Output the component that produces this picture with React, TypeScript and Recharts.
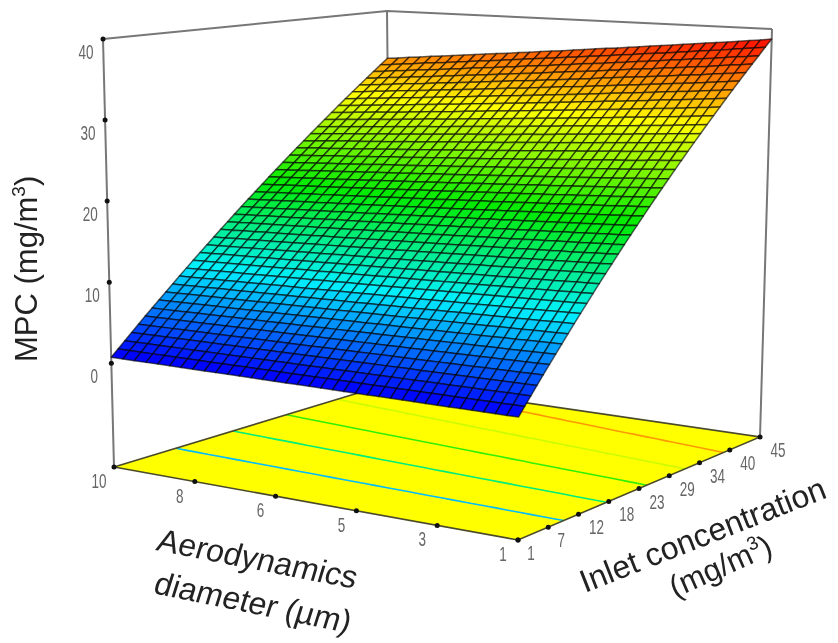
import { ScatterChart, Scatter, XAxis, YAxis } from 'recharts';

const WIDTH = 838;
const HEIGHT = 643;

// Axis ticks, equally spaced values with their rounded printed labels
const diameterTicks = [10, 8.2, 6.4, 4.6, 2.8, 1];
const diameterLabels = ['10', '8', '6', '5', '3', '1'];
const inletTicks = [1, 6.5, 12, 17.5, 23, 28.5, 34, 39.5, 45];
const inletLabels = ['1', '7', '12', '18', '23', '29', '34', '40', '45'];
const mpcTicks = [0, 10, 20, 30, 40];

// Mesh lines of the surface
const inletMesh = [
  1, 2.1, 3.2, 4.3, 5.4, 6.5, 7.6, 8.7, 9.8, 10.9, 12, 13.1, 14.2, 15.3, 16.4, 17.5, 18.6, 19.7, 20.8, 21.9, 23,
  24.1, 25.2, 26.3, 27.4, 28.5, 29.6, 30.7, 31.8, 32.9, 34, 35.1, 36.2, 37.3, 38.4, 39.5, 40.6, 41.7, 42.8, 43.9, 45,
];
const diameterMesh = [
  10, 9.74, 9.49, 9.23, 8.97, 8.71, 8.46, 8.2, 7.94, 7.69, 7.43, 7.17, 6.91, 6.66, 6.4, 6.14, 5.89, 5.63,
  5.37, 5.11, 4.86, 4.6, 4.34, 4.09, 3.83, 3.57, 3.31, 3.06, 2.8, 2.54, 2.29, 2.03, 1.77, 1.51, 1.26, 1,
];
// Share of the inlet concentration passing at each diameter
const passFraction = [
  0.74, 0.743, 0.747, 0.75, 0.754, 0.757, 0.76, 0.764, 0.767, 0.771, 0.774, 0.777, 0.781, 0.784, 0.788, 0.791, 0.794, 0.798,
  0.801, 0.805, 0.808, 0.811, 0.815, 0.818, 0.822, 0.825, 0.828, 0.832, 0.835, 0.839, 0.842, 0.845, 0.849, 0.853, 0.856, 0.86,
];
const contourLevels = [8, 14.7, 21, 27, 33];

const colorStops = [1, 10, 19, 29, 39];
const colorValues = [
  [0, 0, 255],
  [0, 240, 255],
  [0, 235, 0],
  [255, 255, 0],
  [255, 0, 0],
];

const Z_FLOOR = -12.8;
const Z_TOP = 40;

// Screen corners of the 3D box: d=10/c=1, d=1/c=1, d=1/c=45, d=10/c=45
const floorBox = [[114, 467], [518, 540], [760, 437], [391, 383]];
const topBox = [[103, 39], [520, 65], [772, 29], [387, 11]];

const bilinear = (box: number[][], u: number, v: number, i: number) =>
  (1 - u) * (1 - v) * box[0][i] + u * (1 - v) * box[1][i] + u * v * box[2][i] + (1 - u) * v * box[3][i];

function project(d: number, c: number, z: number) {
  const u = (10 - d) / 9;
  const v = (c - 1) / 44;
  const w = (z - Z_FLOOR) / (Z_TOP - Z_FLOOR);
  return {
    px: bilinear(floorBox, u, v, 0) * (1 - w) + bilinear(topBox, u, v, 0) * w,
    py: bilinear(floorBox, u, v, 1) * (1 - w) + bilinear(topBox, u, v, 1) * w,
  };
}

function colorFor(z: number) {
  let i = 0;
  while (i < colorStops.length - 2 && z > colorStops[i + 1]) i++;
  const t = Math.max(0, Math.min(1, (z - colorStops[i]) / (colorStops[i + 1] - colorStops[i])));
  const rgb = colorValues[i].map((a, k) => Math.round(a + (colorValues[i + 1][k] - a) * t));
  return `rgb(${rgb.join(',')})`;
}

// surface cells
const cells: any[] = [];
for (let r = inletMesh.length - 2; r >= 0; r--) {
  for (let k = 0; k < diameterMesh.length - 1; k++) {
    const z00 = inletMesh[r] * passFraction[k];
    const z01 = inletMesh[r] * passFraction[k + 1];
    const z11 = inletMesh[r + 1] * passFraction[k + 1];
    const z10 = inletMesh[r + 1] * passFraction[k];
    const a = project(diameterMesh[k], inletMesh[r], z00);
    const corners = [
      a,
      project(diameterMesh[k + 1], inletMesh[r], z01),
      project(diameterMesh[k + 1], inletMesh[r + 1], z11),
      project(diameterMesh[k], inletMesh[r + 1], z10),
    ];
    cells.push({ ...a, corners, fill: colorFor((z00 + z01 + z11 + z10) / 4) });
  }
}

const floorPoint = { ...project(10, 1, Z_FLOOR) };
const floorData = [
  {
    ...floorPoint,
    corners: [project(10, 1, Z_FLOOR), project(1, 1, Z_FLOOR), project(1, 45, Z_FLOOR), project(10, 45, Z_FLOOR)],
    fill: '#ffff00',
  },
];

const contours = contourLevels.map((level) => ({
  level,
  points: diameterMesh.map((d, k) => project(d, level / passFraction[k], Z_FLOOR)),
}));

const boxLines = [
  [project(10, 1, Z_FLOOR), project(10, 1, Z_TOP)],
  [project(10, 45, Z_FLOOR), project(10, 45, Z_TOP)],
  [project(1, 45, Z_FLOOR), project(1, 45, Z_TOP)],
  [project(10, 1, Z_TOP), project(10, 45, Z_TOP), project(1, 45, Z_TOP)],
];
const floorEdges = [
  [project(10, 1, Z_FLOOR), project(1, 1, Z_FLOOR), project(1, 45, Z_FLOOR), project(10, 45, Z_FLOOR), project(10, 1, Z_FLOOR)],
];

const tickDots = [
  ...mpcTicks.map((z) => project(10, 1, z)),
  ...diameterTicks.map((d) => project(d, 1, Z_FLOOR)),
  ...inletTicks.map((c) => project(1, c, Z_FLOOR)),
];

const tickLabels = [
  ...mpcTicks.map((z) => {
    const p = project(10, 1, z);
    return { px: p.px - 17, py: p.py + 20, text: String(z) };
  }),
  ...diameterTicks.map((d, i) => {
    const p = project(d, 1, Z_FLOOR);
    return { px: p.px - 15, py: p.py + 21, text: diameterLabels[i] };
  }),
  ...inletTicks.map((c, i) => {
    const p = project(1, c, Z_FLOOR);
    return { px: p.px + (inletLabels[i].length > 1 ? 18 : 13), py: p.py + 20, text: inletLabels[i] };
  }),
];

const titles = [
  { px: 37, py: 362, text: 'MPC (mg/m', sup: '3', tail: ')', angle: -90, skew: 0, size: 31 },
  { px: 155, py: 550, text: 'Aerodynamics', angle: 11, skew: -6, size: 32 },
  { px: 152, py: 593, text: 'diameter (µm)', angle: 11.5, skew: -6, size: 32 },
  { px: 585, py: 593, text: 'Inlet concentration', angle: -21.5, skew: 0, size: 32 },
  { px: 675, py: 598, text: '(mg/m', sup: '3', tail: ')', angle: -24, skew: 0, size: 31 },
];

const polygonShape = (stroke: string, strokeWidth: number) => (props: any) => {
  const { cx, cy, payload } = props;
  const points = payload.corners
    .map((p: any) => `${cx + p.px - payload.px},${cy + p.py - payload.py}`)
    .join(' ');
  return <polygon points={points} fill={payload.fill} stroke={stroke} strokeWidth={strokeWidth} strokeLinejoin="round" />;
};

const cellShape = polygonShape('rgba(0,0,0,0.62)', 1.5);
const floorShape = polygonShape('none', 0);
const noShape = () => <g />;
const dotShape = (props: any) => <circle cx={props.cx} cy={props.cy} r={2.5} fill="#111" />;

const tickLabelShape = (props: any) => {
  const { cx, cy, payload } = props;
  return (
    <text
      x={cx}
      y={cy}
      textAnchor="middle"
      fontFamily="'Liberation Sans', Arial, sans-serif"
      fontSize={21}
      fill="#666"
      textLength={payload.text.length * 7.5}
      lengthAdjust="spacingAndGlyphs"
    >
      {payload.text}
    </text>
  );
};

const titleShape = (props: any) => {
  const { cx, cy, payload } = props;
  return (
    <text
      transform={`translate(${cx},${cy}) rotate(${payload.angle}) skewX(${payload.skew})`}
      fontFamily="'Liberation Sans', Arial, sans-serif"
      fontSize={payload.size}
      fill="#222"
    >
      {payload.text}
      {payload.sup && (
        <tspan fontSize={19} dy={-12}>
          {payload.sup}
        </tspan>
      )}
      {payload.tail && <tspan dy={12}>{payload.tail}</tspan>}
    </text>
  );
};

export default function App() {
  return (
    <div style={{ position: 'absolute', left: 0, top: 0, width: WIDTH, height: HEIGHT, filter: 'blur(0.6px)' }}>
      <ScatterChart width={WIDTH} height={HEIGHT} margin={{ top: 0, right: 0, bottom: 0, left: 0 }}>
        <XAxis type="number" dataKey="px" domain={[0, WIDTH]} hide />
        <YAxis type="number" dataKey="py" domain={[0, HEIGHT]} reversed hide />
        <Scatter data={floorData} shape={floorShape} isAnimationActive={false} />
        {contours.map((c) => (
          <Scatter
            key={c.level}
            data={c.points}
            line={{ stroke: colorFor(c.level), strokeWidth: 1.6 }}
            shape={noShape}
            isAnimationActive={false}
          />
        ))}
        {floorEdges.map((points, i) => (
          <Scatter
            key={`floor-${i}`}
            data={points}
            line={{ stroke: '#4a4a2a', strokeWidth: 1.6 }}
            shape={noShape}
            isAnimationActive={false}
          />
        ))}
        {boxLines.map((points, i) => (
          <Scatter
            key={`box-${i}`}
            data={points}
            line={{ stroke: '#777', strokeWidth: 2 }}
            shape={noShape}
            isAnimationActive={false}
          />
        ))}
        <Scatter data={cells} shape={cellShape} isAnimationActive={false} />
        <Scatter data={tickDots} shape={dotShape} isAnimationActive={false} />
        <Scatter data={tickLabels} shape={tickLabelShape} isAnimationActive={false} />
        <Scatter data={titles} shape={titleShape} isAnimationActive={false} />
      </ScatterChart>
    </div>
  );
}
